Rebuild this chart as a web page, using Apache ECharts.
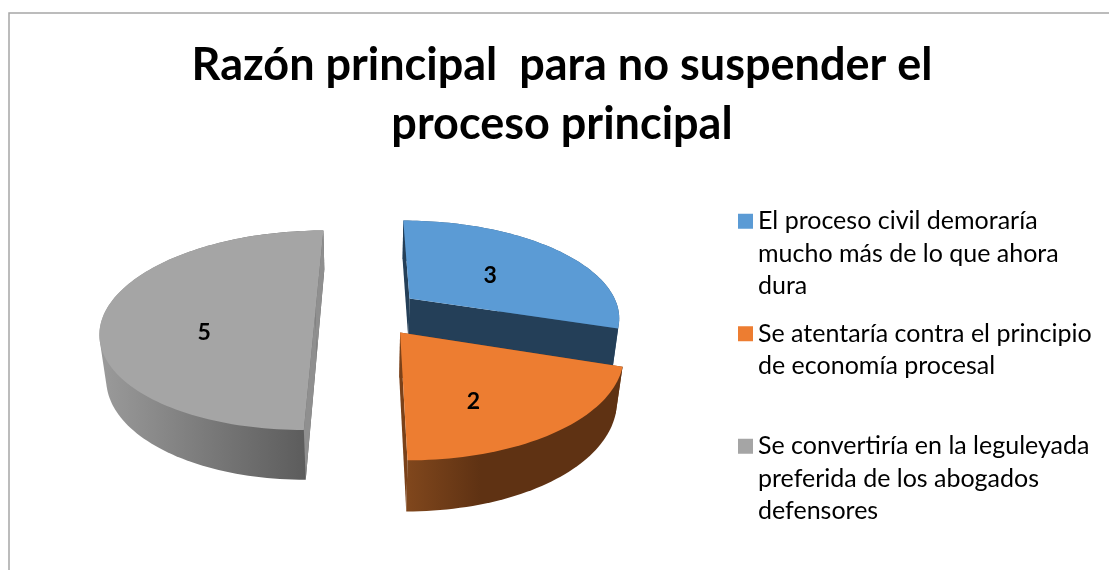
<!DOCTYPE html>
<html>
<head>
<meta charset="utf-8">
<style>html,body{margin:0;padding:0;background:#fff}#c{width:1109px;height:570px}</style>
<script src="https://cdn.jsdelivr.net/npm/echarts@6/dist/echarts.min.js"></script>
</head>
<body>
<div id="c"></div>
<script>
const chartTitle = 'Razón principal  para no suspender el\nproceso principal';
const categories = [
  'El proceso civil demoraría mucho más de lo que ahora dura',
  'Se atentaría contra el principio de economía procesal',
  'Se convertiría en la leguleyada preferida de los abogados defensores'
];
const values = [3, 2, 5];
const legendLines = [
  ['El proceso civil demoraría', 'mucho más de lo que ahora', 'dura'],
  ['Se atentaría contra el principio', 'de economía procesal', ''],
  ['Se convertiría en la leguleyada', 'preferida de los abogados', 'defensores']
];
const topColors = ['#5b9bd5', '#ed7d31', '#a5a5a5'];
const cutColors = ['#243f58', '#7a4119', '#8f8f8f'];

// 3D projection of the exploded pie
const view = { vx: 368, vy: 312.3, rx: 210.5, ry: 96.5, persp: 0.18, depth: 45, sink: 0.025, explode: 0.25 };
const wallFill = [
  { x: 560, x2: 620, stops: ['#33597c', '#2b4c6b'] },
  { x: 403, x2: 480, stops: ['#82481d', '#5f3213'] },
  { x: 105, x2: 306, stops: ['#999999', '#5c5c5c'] }
];
const labelDrop = [0.05, 0.2, 0.2];
const labelRadius = [0.77, 0.73, 0.75];
const total = values.reduce((a, b) => a + b, 0);

function project(X, Z, lower) {
  const w = 1 + view.persp * Z + (lower ? view.sink : 0);
  return [
    view.vx + view.rx * X / w,
    view.vy + (-view.ry * Z + (lower ? view.depth : 0)) / w
  ];
}

function hull(points) {
  const p = points.slice().sort((a, b) => a[0] - b[0] || a[1] - b[1]);
  const cross = (o, a, b) => (a[0] - o[0]) * (b[1] - o[1]) - (a[1] - o[1]) * (b[0] - o[0]);
  const build = list => {
    const out = [];
    list.forEach(q => {
      while (out.length >= 2 && cross(out[out.length - 2], out[out.length - 1], q) <= 0) out.pop();
      out.push(q);
    });
    out.pop();
    return out;
  };
  return build(p).concat(build(p.slice().reverse()));
}

function renderSlice(index) {
  const before = values.slice(0, index).reduce((a, b) => a + b, 0);
  const a0 = before / total * 2 * Math.PI;
  const a1 = (before + values[index]) / total * 2 * Math.PI;
  const mid = (a0 + a1) / 2;
  const ox = view.explode * Math.sin(mid);
  const oz = view.explode * Math.cos(mid);
  const rim = (a, lower) => project(ox + Math.sin(a), oz + Math.cos(a), lower);
  const n = Math.ceil((a1 - a0) / (Math.PI / 120));
  const topArc = [], lowArc = [];
  for (let i = 0; i <= n; i++) {
    const a = a0 + (a1 - a0) * i / n;
    topArc.push(rim(a, false));
    lowArc.push(rim(a, true));
  }
  const apexTop = project(ox, oz, false);
  const apexLow = project(ox, oz, true);
  const cut = a => ({
    type: 'polygon',
    shape: { points: [apexTop, rim(a, false), rim(a, true), apexLow] },
    style: { fill: cutColors[index] }
  });
  const wf = wallFill[index];
  const wall = {
    type: 'polygon',
    shape: { points: hull(topArc.concat(lowArc)) },
    style: {
      fill: {
        type: 'linear', global: true, x: wf.x, y: 0, x2: wf.x2, y2: 0,
        colorStops: [{ offset: 0, color: wf.stops[0] }, { offset: 1, color: wf.stops[1] }]
      }
    }
  };
  const eps = 1e-9;
  const back = [], front = [];
  (Math.sin(a1) >= -eps ? front : back).push(cut(a1));
  (Math.sin(a0) <= eps ? front : back).push(cut(a0));
  const t = labelRadius[index];
  const lp = project(t * Math.sin(mid), t * Math.cos(mid) - labelDrop[index], false);
  return {
    type: 'group',
    children: back.concat([wall], front, [
      {
        type: 'polygon',
        shape: { points: [apexTop].concat(topArc) },
        style: { fill: topColors[index] }
      },
      {
        type: 'text',
        style: {
          text: String(values[index]), x: lp[0], y: lp[1], align: 'center', verticalAlign: 'middle',
          fontFamily: 'Lato', fontWeight: 'bold', fontSize: 23, fill: '#000'
        }
      }
    ])
  };
}

const chart = echarts.init(document.getElementById('c'), null, { renderer: 'canvas' });
chart.setOption({
  animation: false,
  backgroundColor: '#fff',
  title: {
    text: chartTitle, left: 557, top: 31, textAlign: 'center',
    textStyle: { fontFamily: 'Lato', fontWeight: 'bold', fontSize: 45, lineHeight: 59, color: '#000' }
  },
  graphic: [{
    type: 'rect', silent: true, z: -1,
    shape: { x: 9, y: 13, width: 1300, height: 800 },
    style: { fill: 'none', stroke: '#a6a6a6', lineWidth: 1.5 }
  }],
  legend: {
    orient: 'vertical', left: 738, top: 140, padding: 0, itemGap: -50,
    itemWidth: 15, itemHeight: 15, icon: 'rect', selectedMode: false,
    data: categories,
    formatter: name => '\n\n' + legendLines[categories.indexOf(name)].join('\n'),
    textStyle: { fontFamily: 'Lato', fontSize: 25, lineHeight: 32.5, color: '#000' }
  },
  series: categories.map((name, i) => ({
    type: 'custom', name, coordinateSystem: 'none', silent: true,
    itemStyle: { color: topColors[i] },
    data: [values[i]],
    renderItem: () => renderSlice(i)
  }))
});
</script>
</body>
</html>
